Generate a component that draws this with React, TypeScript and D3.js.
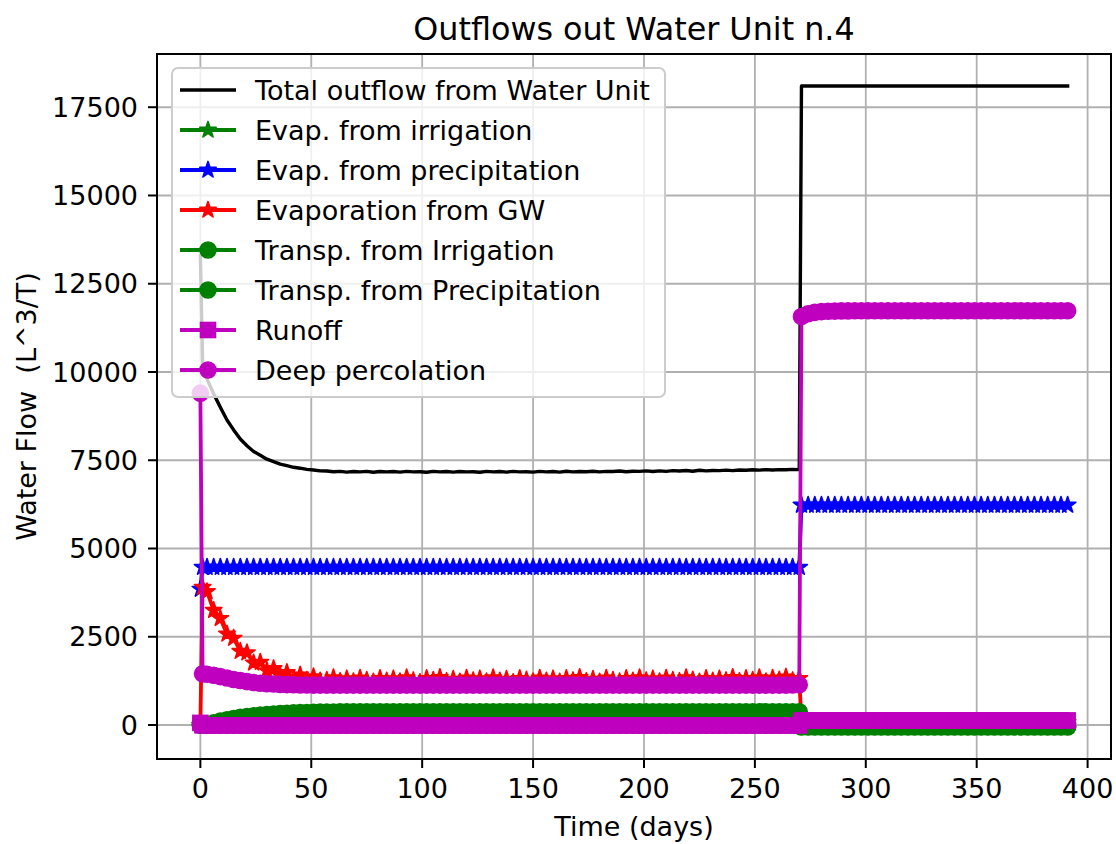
import React from 'react';
import * as d3 from 'd3';

// ---- sampled time axis (days) ----
const days = [
  0, 1, 3, 6, 9, 12, 15, 18, 21, 24,
  27, 30, 33, 36, 39, 42, 45, 48, 51, 54,
  57, 60, 63, 66, 69, 72, 75, 78, 81, 84,
  87, 90, 93, 96, 99, 102, 105, 108, 111, 114,
  117, 120, 123, 126, 129, 132, 135, 138, 141, 144,
  147, 150, 153, 156, 159, 162, 165, 168, 171, 174,
  177, 180, 183, 186, 189, 192, 195, 198, 201, 204,
  207, 210, 213, 216, 219, 222, 225, 228, 231, 234,
  237, 240, 243, 246, 249, 252, 255, 258, 261, 264,
  267, 270,
  271, 274, 277, 280, 283, 286, 289, 292, 295, 298,
  301, 304, 307, 310, 313, 316, 319, 322, 325, 328,
  331, 334, 337, 340, 343, 346, 349, 352, 355, 358,
  361, 364, 367, 370, 373, 376, 379, 382, 385, 388,
  391,
];

const totalOutflow = [
  13300, 10300, 9800, 9380, 9000, 8640, 8360, 8100, 7910, 7750,
  7640, 7530, 7460, 7390, 7345, 7300, 7275, 7240, 7225, 7200,
  7195, 7175, 7185, 7165, 7180, 7170, 7185, 7160, 7180, 7170,
  7180, 7165, 7185, 7170, 7175, 7160, 7185, 7170, 7180, 7165,
  7180, 7170, 7175, 7160, 7185, 7170, 7180, 7165, 7185, 7170,
  7175, 7165, 7185, 7170, 7180, 7165, 7190, 7170, 7180, 7175,
  7190, 7170, 7185, 7180, 7195, 7175, 7190, 7185, 7200, 7180,
  7200, 7185, 7205, 7195, 7210, 7190, 7215, 7200, 7210, 7205,
  7220, 7205, 7225, 7215, 7230, 7220, 7235, 7225, 7235, 7230,
  7240, 7235,
  18100, 18100, 18100, 18100, 18100, 18100, 18100, 18100, 18100, 18100,
  18100, 18100, 18100, 18100, 18100, 18100, 18100, 18100, 18100, 18100,
  18100, 18100, 18100, 18100, 18100, 18100, 18100, 18100, 18100, 18100,
  18100, 18100, 18100, 18100, 18100, 18100, 18100, 18100, 18100, 18100,
  18100,
];

const evapIrrigation = [
  0, 0, 0, 0, 0, 0, 0, 0, 0, 0,
  0, 0, 0, 0, 0, 0, 0, 0, 0, 0,
  0, 0, 0, 0, 0, 0, 0, 0, 0, 0,
  0, 0, 0, 0, 0, 0, 0, 0, 0, 0,
  0, 0, 0, 0, 0, 0, 0, 0, 0, 0,
  0, 0, 0, 0, 0, 0, 0, 0, 0, 0,
  0, 0, 0, 0, 0, 0, 0, 0, 0, 0,
  0, 0, 0, 0, 0, 0, 0, 0, 0, 0,
  0, 0, 0, 0, 0, 0, 0, 0, 0, 0,
  0, 0,
  -20, -20, -20, -20, -20, -20, -20, -20, -20, -20,
  -20, -20, -20, -20, -20, -20, -20, -20, -20, -20,
  -20, -20, -20, -20, -20, -20, -20, -20, -20, -20,
  -20, -20, -20, -20, -20, -20, -20, -20, -20, -20,
  -20,
];

const evapPrecipitation = [
  3850, 4470, 4470, 4470, 4470, 4470, 4470, 4470, 4470, 4470,
  4470, 4470, 4470, 4470, 4470, 4470, 4470, 4470, 4470, 4470,
  4470, 4470, 4470, 4470, 4470, 4470, 4470, 4470, 4470, 4470,
  4470, 4470, 4470, 4470, 4470, 4470, 4470, 4470, 4470, 4470,
  4470, 4470, 4470, 4470, 4470, 4470, 4470, 4470, 4470, 4470,
  4470, 4470, 4470, 4470, 4470, 4470, 4470, 4470, 4470, 4470,
  4470, 4470, 4470, 4470, 4470, 4470, 4470, 4470, 4470, 4470,
  4470, 4470, 4470, 4470, 4470, 4470, 4470, 4470, 4470, 4470,
  4470, 4470, 4470, 4470, 4470, 4470, 4470, 4470, 4470, 4470,
  4470, 4470,
  6230, 6230, 6230, 6230, 6230, 6230, 6230, 6230, 6230, 6230,
  6230, 6230, 6230, 6230, 6230, 6230, 6230, 6230, 6230, 6230,
  6230, 6230, 6230, 6230, 6230, 6230, 6230, 6230, 6230, 6230,
  6230, 6230, 6230, 6230, 6230, 6230, 6230, 6230, 6230, 6230,
  6230,
];

const evapGW = [
  0, 3900, 3780, 3250, 3020, 2580, 2460, 2090, 2050, 1760,
  1780, 1540, 1600, 1400, 1490, 1320, 1420, 1270, 1370, 1250,
  1270, 1340, 1240, 1310, 1230, 1330, 1270, 1220, 1320, 1250,
  1310, 1230, 1340, 1260, 1210, 1320, 1270, 1350, 1240, 1300,
  1220, 1330, 1260, 1310, 1230, 1340, 1250, 1300, 1210, 1320,
  1280, 1230, 1330, 1250, 1310, 1220, 1320, 1260, 1350, 1240,
  1300, 1220, 1330, 1270, 1230, 1320, 1250, 1340, 1260, 1310,
  1230, 1330, 1270, 1240, 1340, 1280, 1220, 1320, 1250, 1310,
  1260, 1350, 1240, 1320, 1270, 1340, 1230, 1330, 1280, 1360,
  1260, 1320,
  80, 80, 80, 80, 80, 80, 80, 80, 80, 80,
  80, 80, 80, 80, 80, 80, 80, 80, 80, 80,
  80, 80, 80, 80, 80, 80, 80, 80, 80, 80,
  80, 80, 80, 80, 80, 80, 80, 80, 80, 80,
  80,
];

const transpIrrigation = [
  0, 0, 20, 60, 110, 150, 185, 215, 240, 262,
  282, 298, 312, 325, 335, 343, 350, 356, 361, 365,
  368, 370, 372, 373, 374, 375, 375, 376, 376, 377,
  377, 377, 377, 377, 377, 377, 377, 377, 377, 377,
  377, 377, 377, 377, 377, 377, 377, 377, 377, 377,
  377, 377, 377, 377, 377, 377, 377, 377, 377, 377,
  377, 377, 377, 377, 377, 377, 377, 377, 377, 377,
  377, 377, 377, 377, 377, 377, 377, 377, 377, 377,
  377, 377, 377, 377, 377, 377, 377, 377, 377, 377,
  377, 377,
  -40, -40, -40, -40, -40, -40, -40, -40, -40, -40,
  -40, -40, -40, -40, -40, -40, -40, -40, -40, -40,
  -40, -40, -40, -40, -40, -40, -40, -40, -40, -40,
  -40, -40, -40, -40, -40, -40, -40, -40, -40, -40,
  -40,
];

const transpPrecipitation = [
  0, 0, 0, 0, 0, 0, 0, 0, 0, 0,
  0, 0, 0, 0, 0, 0, 0, 0, 0, 0,
  0, 0, 0, 0, 0, 0, 0, 0, 0, 0,
  0, 0, 0, 0, 0, 0, 0, 0, 0, 0,
  0, 0, 0, 0, 0, 0, 0, 0, 0, 0,
  0, 0, 0, 0, 0, 0, 0, 0, 0, 0,
  0, 0, 0, 0, 0, 0, 0, 0, 0, 0,
  0, 0, 0, 0, 0, 0, 0, 0, 0, 0,
  0, 0, 0, 0, 0, 0, 0, 0, 0, 0,
  0, 0,
  -55, -55, -55, -55, -55, -55, -55, -55, -55, -55,
  -55, -55, -55, -55, -55, -55, -55, -55, -55, -55,
  -55, -55, -55, -55, -55, -55, -55, -55, -55, -55,
  -55, -55, -55, -55, -55, -55, -55, -55, -55, -55,
  -55,
];

const runoff = [
  60, -10, -10, -10, -10, -10, -10, -10, -10, -10,
  -10, -10, -10, -10, -10, -10, -10, -10, -10, -10,
  -10, -10, -10, -10, -10, -10, -10, -10, -10, -10,
  -10, -10, -10, -10, -10, -10, -10, -10, -10, -10,
  -10, -10, -10, -10, -10, -10, -10, -10, -10, -10,
  -10, -10, -10, -10, -10, -10, -10, -10, -10, -10,
  -10, -10, -10, -10, -10, -10, -10, -10, -10, -10,
  -10, -10, -10, -10, -10, -10, -10, -10, -10, -10,
  -10, -10, -10, -10, -10, -10, -10, -10, -10, -10,
  -10, -10,
  130, 130, 130, 130, 130, 130, 130, 130, 130, 130,
  130, 130, 130, 130, 130, 130, 130, 130, 130, 130,
  130, 130, 130, 130, 130, 130, 130, 130, 130, 130,
  130, 130, 130, 130, 130, 130, 130, 130, 130, 130,
  130,
];

const deepPercolation = [
  9400, 1450, 1440, 1410, 1370, 1330, 1290, 1260, 1230, 1205,
  1185, 1170, 1160, 1150, 1145, 1140, 1135, 1135, 1130, 1130,
  1130, 1130, 1130, 1130, 1130, 1130, 1130, 1130, 1130, 1130,
  1130, 1130, 1130, 1130, 1130, 1130, 1130, 1130, 1130, 1130,
  1130, 1130, 1130, 1130, 1130, 1130, 1130, 1130, 1130, 1130,
  1130, 1130, 1130, 1130, 1130, 1130, 1130, 1130, 1130, 1130,
  1130, 1130, 1130, 1130, 1130, 1130, 1130, 1130, 1130, 1130,
  1130, 1130, 1130, 1130, 1130, 1130, 1130, 1130, 1130, 1130,
  1130, 1130, 1130, 1130, 1130, 1130, 1130, 1130, 1130, 1130,
  1135, 1140,
  11570, 11650, 11690, 11710, 11720, 11725, 11730, 11730, 11735, 11735,
  11735, 11735, 11735, 11735, 11735, 11735, 11735, 11735, 11735, 11735,
  11735, 11735, 11735, 11735, 11735, 11735, 11735, 11735, 11735, 11735,
  11735, 11735, 11735, 11735, 11735, 11735, 11735, 11735, 11735, 11735,
  11735,
];

const seriesNames = [
  'Total outflow from Water Unit',
  'Evap. from irrigation',
  'Evap. from precipitation',
  'Evaporation from GW',
  'Transp. from Irrigation',
  'Transp. from Precipitation',
  'Runoff',
  'Deep percolation',
];

const xTicks = [0, 50, 100, 150, 200, 250, 300, 350, 400];
const yTicks = [0, 2500, 5000, 7500, 10000, 12500, 15000, 17500];

const W = 1116;
const H = 844;
const PLOT = { left: 157, right: 1111, top: 54, bottom: 759 };
const FONT = 'DejaVu Sans, sans-serif';

type MarkerKind = 'none' | 'star' | 'circle' | 'square';

function starPath(R: number): string {
  const pts: [number, number][] = [];
  for (let i = 0; i < 10; i++) {
    const a = -Math.PI / 2 + (i * Math.PI) / 5;
    const r = i % 2 === 0 ? R : R * 0.381966;
    pts.push([r * Math.cos(a), r * Math.sin(a)]);
  }
  return 'M' + pts.map((p) => p[0].toFixed(2) + ',' + p[1].toFixed(2)).join('L') + 'Z';
}

const STAR = starPath(8.6);

function Marker({ kind, color, x, y }: { kind: MarkerKind; color: string; x: number; y: number }) {
  if (kind === 'star')
    return <path d={STAR} transform={`translate(${x},${y})`} fill={color} stroke={color} strokeWidth={1.6} strokeLinejoin="round" />;
  if (kind === 'circle')
    return <circle cx={x} cy={y} r={8} fill={color} stroke={color} strokeWidth={1.6} />;
  if (kind === 'square')
    return <rect x={x - 7.5} y={y - 7.5} width={15} height={15} fill={color} stroke={color} strokeWidth={1.6} />;
  return null;
}

export default function App() {
  const series: { name: string; color: string; values: number[]; marker: MarkerKind; lw: number }[] = [
    { name: seriesNames[0], color: '#000000', values: totalOutflow, marker: 'none', lw: 3.4 },
    { name: seriesNames[1], color: '#008000', values: evapIrrigation, marker: 'star', lw: 3.8 },
    { name: seriesNames[2], color: '#0000ff', values: evapPrecipitation, marker: 'star', lw: 3.8 },
    { name: seriesNames[3], color: '#ff0000', values: evapGW, marker: 'star', lw: 3.8 },
    { name: seriesNames[4], color: '#008000', values: transpIrrigation, marker: 'circle', lw: 3.8 },
    { name: seriesNames[5], color: '#008000', values: transpPrecipitation, marker: 'circle', lw: 3.8 },
    { name: seriesNames[6], color: '#bf00bf', values: runoff, marker: 'square', lw: 3.8 },
    { name: seriesNames[7], color: '#bf00bf', values: deepPercolation, marker: 'circle', lw: 3.8 },
  ];

  const [x0, x1] = d3.extent(days) as [number, number];
  const allVals = series.flatMap((s) => s.values);
  const [y0, y1] = d3.extent(allVals) as [number, number];
  const xPad = (x1 - x0) * 0.05;
  const yPad = (y1 - y0) * 0.05;

  const x = d3.scaleLinear().domain([x0 - xPad, x1 + xPad]).range([PLOT.left, PLOT.right]);
  const y = d3.scaleLinear().domain([y0 - yPad, y1 + yPad]).range([PLOT.bottom, PLOT.top]);

  const line = d3
    .line<[number, number]>()
    .x((d) => x(d[0]))
    .y((d) => y(d[1]));

  const fs = 27;

  return (
    <svg
      width={W}
      height={H}
      style={{ position: 'absolute', left: 0, top: 0, background: '#ffffff' }}
      fontFamily={FONT}
    >
      <rect x={0} y={0} width={W} height={H} fill="#ffffff" />
      <defs>
        <clipPath id="plotclip">
          <rect x={PLOT.left} y={PLOT.top} width={PLOT.right - PLOT.left} height={PLOT.bottom - PLOT.top} />
        </clipPath>
      </defs>

      {/* grid */}
      <g stroke="#b0b0b0" strokeWidth={1.8}>
        {xTicks.map((t) => (
          <line key={'gx' + t} x1={x(t)} x2={x(t)} y1={PLOT.top} y2={PLOT.bottom} />
        ))}
        {yTicks.map((t) => (
          <line key={'gy' + t} x1={PLOT.left} x2={PLOT.right} y1={y(t)} y2={y(t)} />
        ))}
      </g>

      {/* series */}
      <g clipPath="url(#plotclip)">
        {series.map((s, si) => {
          const pts: [number, number][] = days.map((d, i) => [d, s.values[i]]);
          return (
            <g key={'s' + si}>
              <path d={line(pts) || ''} fill="none" stroke={s.color} strokeWidth={s.lw} strokeLinejoin="round" strokeLinecap="square" />
              {s.marker !== 'none' &&
                pts.map((p, i) => <Marker key={i} kind={s.marker} color={s.color} x={x(p[0])} y={y(p[1])} />)}
            </g>
          );
        })}
      </g>

      {/* frame */}
      <rect
        x={PLOT.left}
        y={PLOT.top}
        width={PLOT.right - PLOT.left}
        height={PLOT.bottom - PLOT.top}
        fill="none"
        stroke="#000"
        strokeWidth={2}
      />

      {/* x ticks */}
      <g>
        {xTicks.map((t) => (
          <g key={'xt' + t}>
            <line x1={x(t)} x2={x(t)} y1={PLOT.bottom} y2={PLOT.bottom + 9} stroke="#000" strokeWidth={2} />
            <text x={x(t)} y={798} textAnchor="middle" fontSize={fs} fill="#000">
              {t}
            </text>
          </g>
        ))}
      </g>

      {/* y ticks */}
      <g>
        {yTicks.map((t) => (
          <g key={'yt' + t}>
            <line x1={PLOT.left - 9} x2={PLOT.left} y1={y(t)} y2={y(t)} stroke="#000" strokeWidth={2} />
            <text x={138} y={y(t) + 9.6} textAnchor="end" fontSize={fs} fill="#000">
              {t}
            </text>
          </g>
        ))}
      </g>

      {/* axis labels and title */}
      <text x={(PLOT.left + PLOT.right) / 2} y={836} textAnchor="middle" fontSize={fs} fill="#000">
        Time (days)
      </text>
      <text
        transform={`translate(36,${(PLOT.top + PLOT.bottom) / 2}) rotate(-90)`}
        textAnchor="middle"
        fontSize={fs}
        fill="#000"
        style={{ whiteSpace: 'pre' }}
      >
        {'Water Flow  (L^3/T)'}
      </text>
      <text x={(PLOT.left + PLOT.right) / 2} y={40} textAnchor="middle" fontSize={31.8} fill="#000">
        Outflows out Water Unit n.4
      </text>

      {/* legend */}
      <g>
        <rect x={172} y={68} width={493} height={329} rx={6} ry={6} fill="#ffffff" fillOpacity={0.8} stroke="#cccccc" strokeWidth={2} />
        {series.map((s, i) => {
          const cy = 90 + i * 40;
          return (
            <g key={'lg' + i}>
              <line x1={180} x2={236} y1={cy} y2={cy} stroke={s.color} strokeWidth={s.lw} />
              {s.marker !== 'none' && <Marker kind={s.marker} color={s.color} x={208} y={cy} />}
              <text x={255} y={cy + 9.8} fontSize={fs} fill="#000">
                {s.name}
              </text>
            </g>
          );
        })}
      </g>
    </svg>
  );
}
